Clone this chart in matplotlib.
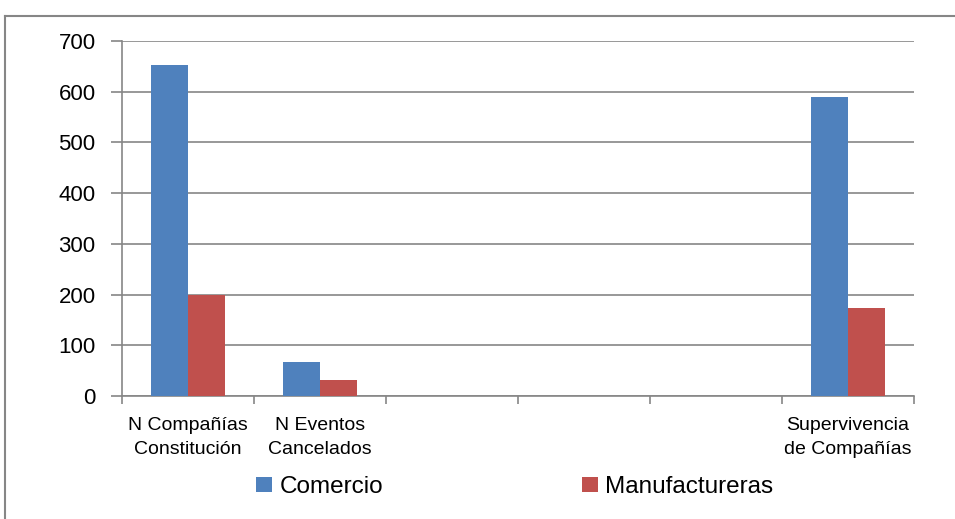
import numpy as np
import matplotlib.pyplot as plt
from matplotlib.lines import Line2D

plt.rcParams['font.family'] = ['Liberation Sans', 'DejaVu Sans']

categorias = ['N Compañías\nConstitución', 'N Eventos\nCancelados', '', '', '', 'Supervivencia\nde Compañías']
comercio = [653, 67, 0, 0, 0, 589]
manufactureras = [200, 31, 0, 0, 0, 173]
yticks = [0, 100, 200, 300, 400, 500, 600, 700]

azul = '#4f81bd'
rojo = '#c0504d'
gris = '#868686'

fig = plt.figure(figsize=(9.55, 5.19), dpi=100)
ax = fig.add_axes([122 / 955, 1 - 396 / 519, 792 / 955, 355 / 519])

x = np.arange(len(categorias))
w = 0.284
ax.bar(x - w / 2, comercio, w, color=azul, label='Comercio', zorder=3)
ax.bar(x + w / 2, manufactureras, w, color=rojo, label='Manufactureras', zorder=3)

ax.set_xlim(-0.5, len(categorias) - 0.5)
ax.set_ylim(0, 700)
ax.set_yticks(yticks)
ax.yaxis.grid(True, color=gris, linewidth=1.2, zorder=0)
ax.tick_params(axis='y', labelsize=16, length=8, color=gris, width=1.2, pad=11)

# etiquetas en el centro, marcas en los bordes de las categorías
ax.set_xticks(x)
ax.set_xticklabels(categorias, fontsize=14, linespacing=1.55)
ax.tick_params(axis='x', which='major', length=0, pad=15)
ax.set_xticks(np.arange(-0.5, len(categorias)), minor=True)
ax.tick_params(axis='x', which='minor', length=6, color=gris, width=1.2)

for s in ['top', 'right']:
    ax.spines[s].set_visible(False)
for s in ['left', 'bottom']:
    ax.spines[s].set_color(gris)
    ax.spines[s].set_linewidth(1.2)

fig.legend(loc='center', bbox_to_anchor=(515 / 955, 1 - 487 / 519), ncol=2,
           frameon=False, fontsize=17.5, handlelength=0.65, handleheight=0.6,
           handletextpad=0.3, columnspacing=8.2)

# borde exterior del gráfico
top = 1 - 16 / 519
left = 5 / 955
fig.add_artist(Line2D([left, 1], [top, top], transform=fig.transFigure, color=gris, linewidth=1.5))
fig.add_artist(Line2D([left, left], [0, top], transform=fig.transFigure, color=gris, linewidth=1.5))

fig.savefig('out.png', dpi=100)
